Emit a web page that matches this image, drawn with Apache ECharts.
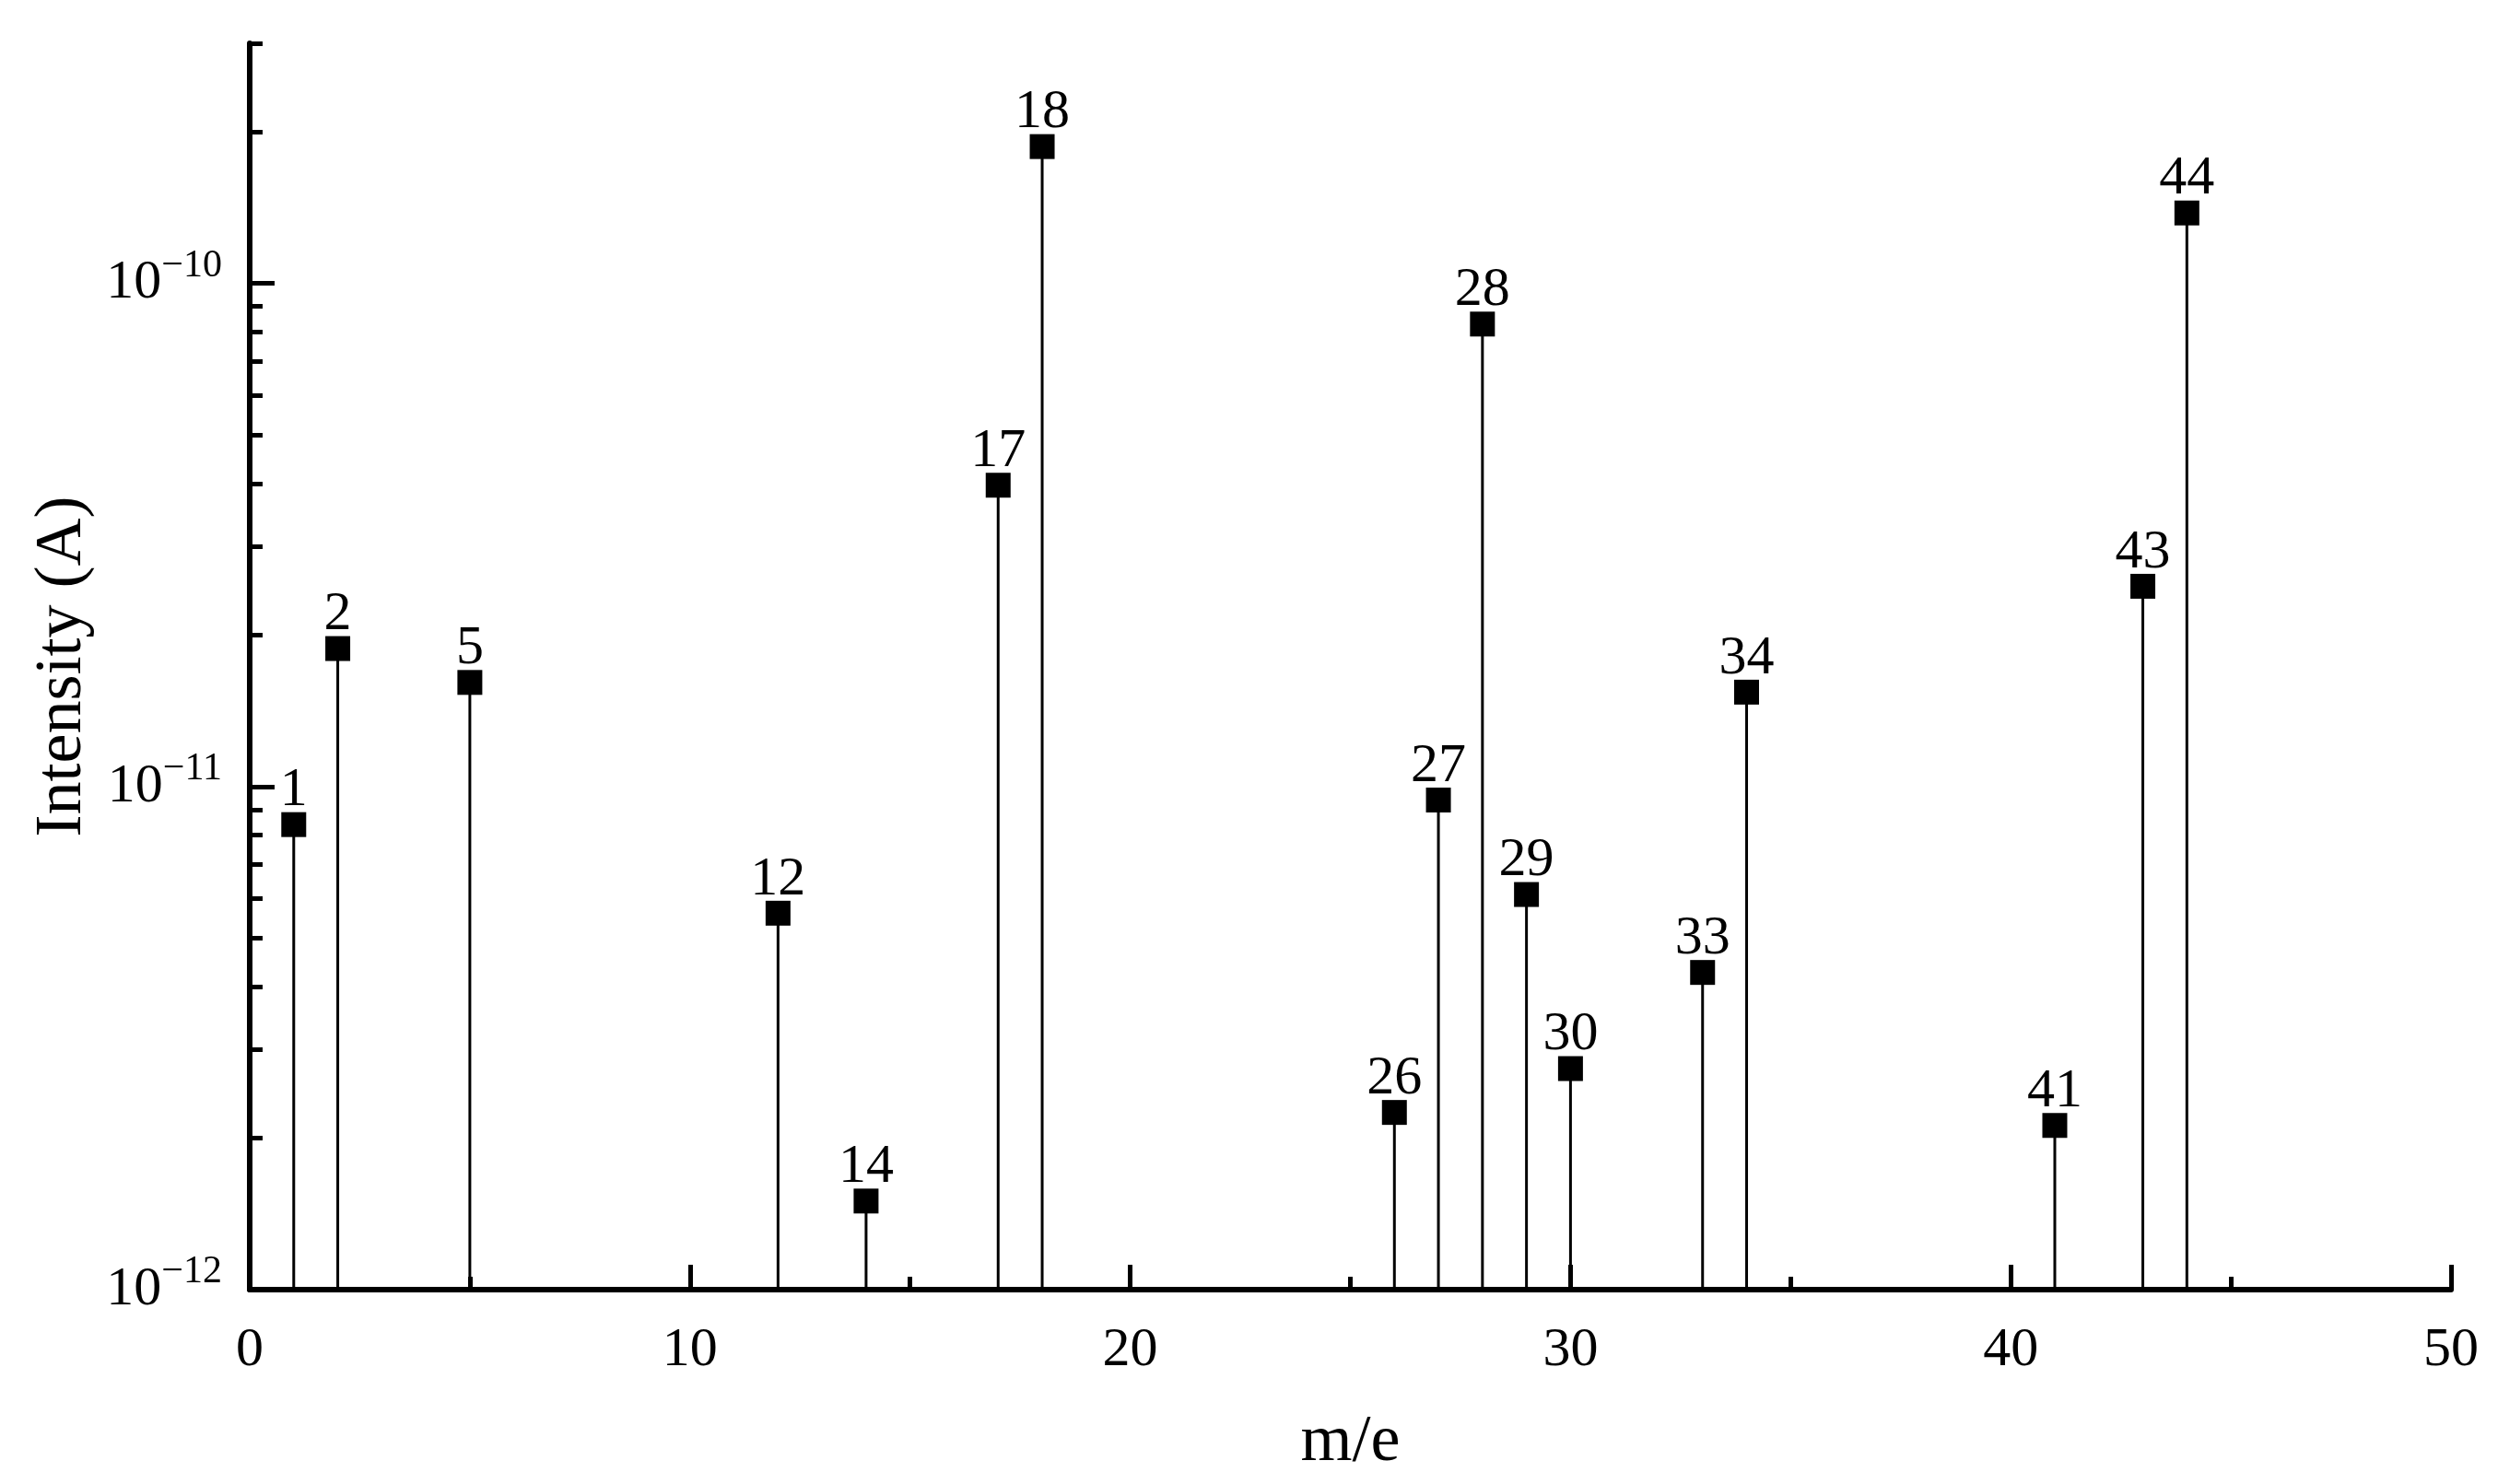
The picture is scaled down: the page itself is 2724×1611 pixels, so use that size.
<!DOCTYPE html>
<html>
<head>
<meta charset="utf-8">
<script src="https://cdn.jsdelivr.net/npm/echarts@6/dist/echarts.min.js"></script>
<style>
  html, body { margin: 0; padding: 0; background: #fff; }
  #chart { width: 2724px; height: 1611px; }
</style>
</head>
<body>
<div id="chart"></div>
<script>
// 质荷比与离子流强度
const massNumbers = [1, 2, 5, 12, 14, 17, 18, 26, 27, 28, 29, 30, 33, 34, 41, 43, 44];
const intensities = [
  8.4e-12, 1.88e-11, 1.61e-11, 5.6e-12, 1.5e-12, 3.97e-11, 1.87e-10, 2.25e-12,
  9.4e-12, 8.3e-11, 6.1e-12, 2.75e-12, 4.27e-12, 1.54e-11, 2.12e-12, 2.5e-11, 1.38e-10
];
// 坐标轴刻度
const yMin = 1e-12;
const yMax = 3e-10;
const yDecades = [1e-12, 1e-11, 1e-10];
const yMinorTicks = [
  2e-12, 3e-12, 4e-12, 5e-12, 6e-12, 7e-12, 8e-12, 9e-12,
  2e-11, 3e-11, 4e-11, 5e-11, 6e-11, 7e-11, 8e-11, 9e-11,
  2e-10, 3e-10
];

const FONT = '"Liberation Serif", "Times New Roman", serif';
const points = massNumbers.map((m, i) => [m, intensities[i]]);

const chart = echarts.init(document.getElementById('chart'));
const option = {
  backgroundColor: '#fff',
  animation: false,
  grid: {
    left: 271,
    right: 64,
    top: 47,
    bottom: 211,
    outerBoundsMode: 'none'
  },
  xAxis: {
    type: 'value',
    min: 0,
    max: 50,
    interval: 10,
    name: 'm/e',
    nameLocation: 'middle',
    nameGap: 130,
    nameTextStyle: { fontFamily: FONT, fontSize: 72, color: '#000' },
    axisLine: { lineStyle: { color: '#000', width: 6 } },
    axisTick: { inside: true, length: 27, lineStyle: { color: '#000', width: 5 } },
    minorTick: { show: true, splitNumber: 2, length: 14, lineStyle: { color: '#000', width: 5 } },
    splitLine: { show: false },
    axisLabel: { fontFamily: FONT, fontSize: 60, color: '#000', margin: 36 }
  },
  yAxis: [
    {
      type: 'log',
      logBase: 10,
      min: yMin,
      max: yMax,
      position: 'left',
      name: 'Intensity (A)',
      nameLocation: 'middle',
      nameGap: 136,
      nameTextStyle: { fontFamily: FONT, fontSize: 72, color: '#000' },
      axisLine: { show: true, lineStyle: { color: '#000', width: 6 } },
      axisTick: {
        inside: true, length: 27, customValues: yDecades,
        lineStyle: { color: '#000', width: 5 }
      },
      splitLine: { show: false },
      axisLabel: {
        customValues: yDecades,
        margin: 30,
        color: '#000',
        formatter: function (v) {
          const e = Math.round(Math.log10(v));
          return '{b|10}{s|\u2212' + (-e) + '}';
        },
        rich: {
          b: { fontFamily: FONT, fontSize: 60, lineHeight: 60, color: '#000', verticalAlign: 'bottom' },
          s: { fontFamily: FONT, fontSize: 42, lineHeight: 42, color: '#000', verticalAlign: 'bottom', padding: [0, 0, 28, 0] }
        }
      }
    },
    {
      type: 'log',
      logBase: 10,
      min: yMin,
      max: yMax,
      position: 'left',
      axisLine: { show: false },
      axisTick: {
        inside: true, length: 14, customValues: yMinorTicks,
        lineStyle: { color: '#000', width: 5 }
      },
      axisLabel: { show: false },
      splitLine: { show: false }
    }
  ],
  series: [
    {
      name: 'stems',
      type: 'custom',
      coordinateSystem: 'cartesian2d',
      yAxisIndex: 0,
      data: points,
      renderItem: function (params, api) {
        const top = api.coord([api.value(0), api.value(1)]);
        const base = api.coord([api.value(0), yMin]);
        return {
          type: 'line',
          shape: { x1: top[0], y1: top[1], x2: base[0], y2: base[1] },
          style: { stroke: '#000', lineWidth: 3 }
        };
      },
      z: 2
    },
    {
      name: 'peaks',
      type: 'scatter',
      yAxisIndex: 0,
      data: points,
      symbol: 'rect',
      symbolSize: 27,
      itemStyle: { color: '#000', opacity: 1 },
      label: {
        show: true,
        position: 'top',
        distance: -7,
        fontFamily: FONT,
        fontSize: 60,
        color: '#000',
        opacity: 1,
        formatter: function (p) { return String(p.value[0]); }
      },
      z: 3
    }
  ]
};
chart.setOption(option);
</script>
</body>
</html>
